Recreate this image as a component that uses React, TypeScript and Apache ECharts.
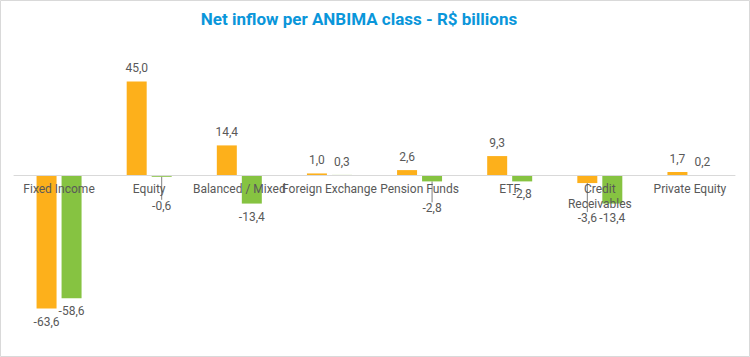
import React, { useEffect, useRef } from "react";
import * as echarts from "echarts";

const categories = [
  "Fixed Income",
  "Equity",
  "Balanced / Mixed",
  "Foreign Exchange",
  "Pension Funds",
  "ETF",
  "Credit Receivables",
  "Private Equity",
];
const seriesA = [-63.6, 45.0, 14.4, 1.0, 2.6, 9.3, -3.6, 1.7];
const seriesB = [-58.6, -0.6, -13.4, 0.3, -2.8, -2.8, -13.4, 0.2];
const titleText = "Net inflow per ANBIMA class - R$ billions";

// manual label offsets (moved labels with leader lines, as in the reference)
const shiftA: Record<number, number> = { 6: 22 };
const shiftB: Record<number, number> = { 1: 16, 4: 14, 6: 1 };

const fmt = (v: number) => v.toFixed(1).replace(".", ",");
const font = "Roboto, 'Open Sans', sans-serif";
const labelColor = "#595959";

const Y_MIN = -70;
const Y_MAX = 60;
const GRID_TOP = 50;
const GRID_BOTTOM = 35;
const H = 357;

function makeData(values: number[], shift: Record<number, number>) {
  return values.map((v, i) => ({
    value: v,
    label: { position: v >= 0 ? "top" : "bottom" },
    labelLine: {
      show: (shift[i] || 0) > 5,
      lineStyle: { color: "#7f7f7f", width: 1 },
    },
  }));
}

export default function App() {
  const ref = useRef<HTMLDivElement>(null);
  useEffect(() => {
    if (!ref.current) return;
    const chart = echarts.init(ref.current, undefined, { renderer: "svg" });
    const labelCommon = {
      show: true,
      distance: 7,
      color: labelColor,
      fontSize: 12,
      fontFamily: font,
      formatter: (p: any) => fmt(p.value),
    };
    const gridH = H - GRID_TOP - GRID_BOTTOM;
    const zeroFromBottom = (gridH * (0 - Y_MIN)) / (Y_MAX - Y_MIN);
    chart.setOption({
      animation: false,
      backgroundColor: "#ffffff",
      title: {
        text: titleText,
        left: 354,
        top: 5,
        textAlign: "center",
        textStyle: {
          color: "#0A96DA",
          fontSize: 17,
          fontWeight: "bold",
          fontFamily: font,
        },
      },
      graphic: [
        {
          type: "rect",
          shape: { x: 0.5, y: 0.5, width: 749, height: 356 },
          style: { fill: "none", stroke: "#d9d9d9", lineWidth: 1 },
          silent: true,
        },
      ],
      grid: { left: 14, right: 15, top: GRID_TOP, bottom: GRID_BOTTOM },
      xAxis: {
        type: "category",
        data: categories,
        z: 5,
        axisLine: { onZero: true, lineStyle: { color: "#d9d9d9", width: 1 } },
        axisTick: { show: false },
        axisLabel: {
          interval: 0,
          margin: 6 - zeroFromBottom,
          color: labelColor,
          fontSize: 12,
          fontFamily: font,
          lineHeight: 15,
          verticalAlign: "top",
          formatter: (v: string) =>
            v === "Credit Receivables" ? "Credit\nReceivables" : v,
        },
      },
      yAxis: {
        type: "value",
        min: Y_MIN,
        max: Y_MAX,
        show: false,
        splitLine: { show: false },
      },
      series: [
        {
          type: "bar",
          data: makeData(seriesA, shiftA),
          barWidth: 20,
          barGap: "25%",
          itemStyle: { color: "#FDB01B" },
          label: labelCommon,
          labelLayout: (p: any) =>
            shiftA[p.dataIndex] ? { dy: shiftA[p.dataIndex] } : {},
        },
        {
          type: "bar",
          data: makeData(seriesB, shiftB),
          barWidth: 20,
          barGap: "25%",
          itemStyle: { color: "#86C341" },
          label: labelCommon,
          labelLayout: (p: any) =>
            shiftB[p.dataIndex] ? { dy: shiftB[p.dataIndex] } : {},
        },
      ],
    });
    return () => chart.dispose();
  }, []);
  return (
    <div
      ref={ref}
      style={{ position: "fixed", left: 0, top: 0, width: 750, height: 357 }}
    />
  );
}
